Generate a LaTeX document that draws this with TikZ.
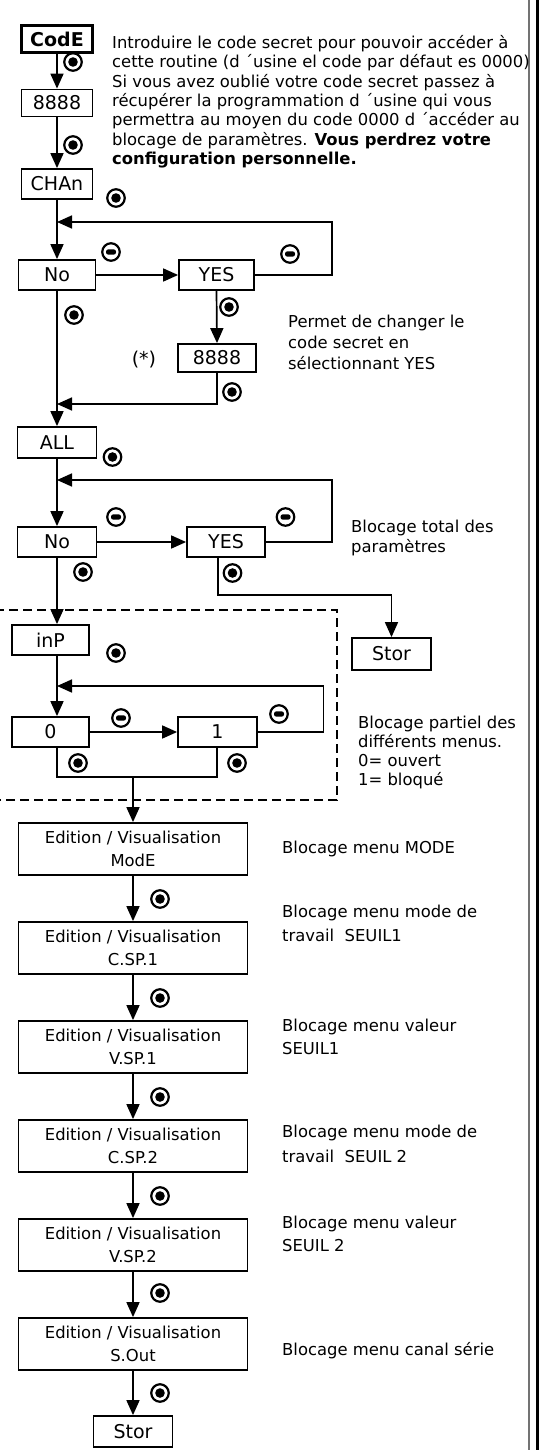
\documentclass[tikz,border=0pt]{standalone}
\usepackage{fontspec}
\setmainfont{DejaVu Sans}
\usetikzlibrary{arrows.meta,calc}

\begin{document}
\begin{tikzpicture}[x=1pt,y=-1pt,
  font=\fontsize{16.4}{19.4}\selectfont,
  smallbox/.style={draw,line width=1.8pt,minimum width=#1,minimum height=30pt,
    inner sep=0pt,font=\fontsize{19}{22}\selectfont},
  smallbox/.default=78pt,
  editbox/.style={draw,line width=1.8pt,minimum width=229pt,minimum height=52pt,
    inner sep=0pt,align=center,font=\fontsize{16.4}{23}\selectfont},
  note/.style={anchor=north west,align=left,inner sep=0pt},
  flow/.style={line width=1.7pt,-{Triangle[length=15pt,width=13pt]}},
  wire/.style={line width=1.7pt},
  keyok/.style={circle,draw,line width=2.2pt,minimum size=17.5pt,inner sep=0pt,
    path picture={\fill (path picture bounding box.center) circle (4.8pt);}},
  keyminus/.style={circle,draw,line width=2.2pt,minimum size=17.5pt,inner sep=0pt,
    path picture={\fill[rounded corners=2.2pt]
      ([xshift=-5pt,yshift=-2.6pt]path picture bounding box.center) rectangle
      ([xshift=5pt,yshift=2.6pt]path picture bounding box.center);}},
  dashframe/.style={line width=1.8pt,dash pattern=on 9pt off 5pt}
]
\useasboundingbox (0,0) rectangle (541,1450);

% page frame on the right
\draw[line width=1.4pt,black!55] (528.8,0) -- (528.8,1450);
\draw[line width=3pt] (537.3,0) -- (537.3,1450);

% ---- access code ----
\node[smallbox=71pt,line width=3pt,minimum height=27pt,font=\fontsize{19}{22}\selectfont\bfseries] (code) at (57,39.5) {CodE};
\node[smallbox=71pt,minimum height=27pt] (p8a) at (57,103) {8888};
\node[smallbox=71pt] (chan) at (57,184) {CHAn};

\node[note,font=\fontsize{16.4}{19.4}\selectfont] (intro) at (112,35)
 {Introduire le code secret pour pouvoir accéder à\\
  cette routine (d ´usine el code par défaut es 0000)\\
  Si vous avez oublié votre code secret passez à\\
  récupérer la programmation d ´usine qui vous\\
  permettra au moyen du code 0000 d ´accéder au\\
  blocage de paramètres. \textbf{Vous perdrez votre}\\
  \textbf{configuration personnelle.}};

\draw[flow] (code.south) -- (p8a.north);
\draw[flow] (p8a.south) -- (chan.north);
\node[keyok] (k1) at (73,62) {};
\node[keyok] (k2) at (73,145) {};
\node[keyok] (k3) at (116,198) {};

% ---- change code ----
\node[smallbox=77pt] (no1) at (57,275) {No};
\node[smallbox=75pt] (yes1) at (216.5,275) {YES};
\node[smallbox=78pt,minimum height=28pt] (p8b) at (217,358) {8888};
\coordinate (j1) at (57,222);
\coordinate (j2) at (57,404);

\draw[flow] (chan.south) -- (no1.north);
\draw[flow] (no1.east) -- (yes1.west);
\draw[flow] (yes1.east) -- ++(77,0) |- (j1);
\draw[flow] (yes1.south) -- (p8b.north);
\draw[flow] (p8b.south) |- (j2);

\node[keyminus] (m1) at (111,252) {};
\node[keyminus] (m2) at (290,254) {};
\node[keyok] (k4) at (74,315) {};
\node[keyok] (k5) at (229,307) {};
\node[keyok] (k6) at (232,392) {};
\node[font=\fontsize{19}{22}\selectfont] (star) at (144,360) {(*)};
\node[note,font=\fontsize{16.4}{21}\selectfont] (tchg) at (288,315)
 {Permet de changer le\\code secret en\\sélectionnant YES};

% ---- total lock ----
\node[smallbox=79pt,minimum height=31pt] (all) at (57,442.5) {ALL};
\node[smallbox=79pt] (no2) at (57,542) {No};
\node[smallbox=78pt] (yes2) at (226,542) {YES};
\node[smallbox=79pt,minimum height=32pt] (stor1) at (391.5,654) {Stor};
\coordinate (j3) at (57,480);

\draw[flow] (no1.south) -- (all.north);
\draw[flow] (all.south) -- (no2.north);
\draw[flow] (no2.east) -- (yes2.west);
\draw[flow] (yes2.east) -- ++(66,0) |- (j3);
\draw[flow] ([xshift=-8pt]yes2.south) -- ++(0,37) -| (stor1.north);

\node[keyok] (k7) at (112.5,457) {};
\node[keyminus] (m3) at (116,517) {};
\node[keyminus] (m4) at (285.5,517) {};
\node[keyok] (k8) at (83,572) {};
\node[keyok] (k9) at (232.5,573) {};
\node[note] (ttot) at (351,520) {Blocage total des\\paramètres};

% ---- partial lock ----
\draw[dashframe] (-5,610) -- (337,610) -- (337,800) -- (-5,800);
\node[smallbox=77pt] (inp) at (50.5,640) {inP};
\node[smallbox=77pt] (zero) at (50.5,732) {0};
\node[smallbox=79pt] (one) at (217.5,732) {1};
\coordinate (j4) at (57,686);
\coordinate (b) at (133,777);

\draw[flow] (no2.south) -- (no2.south |- inp.north);
\draw[flow] (no2.south |- inp.south) -- (no2.south |- zero.north);
\draw[flow] (zero.east) -- (one.west);
\draw[flow] (one.east) -- ++(65.5,0) |- (j4);
\draw[wire] (no2.south |- zero.south) |- (b) -| ([xshift=-0.5pt]one.south);

\node[keyok] (k10) at (116,653) {};
\node[keyminus] (m5) at (121,718) {};
\node[keyminus] (m6) at (279,714) {};
\node[keyok] (k11) at (78,763) {};
\node[keyok] (k12) at (237,763) {};
\node[note,font=\fontsize{16.4}{19}\selectfont] (tpart) at (358,716)
 {Blocage partiel des\\différents menus.\\0= ouvert\\1= bloqué};

% ---- menu locks ----
\node[editbox] (ed1) at (133,849) {Edition / Visualisation\\ModE};
\node[editbox] (ed2) at (133,948) {Edition / Visualisation\\C.SP.1};
\node[editbox] (ed3) at (133,1047) {Edition / Visualisation\\V.SP.1};
\node[editbox] (ed4) at (133,1146) {Edition / Visualisation\\C.SP.2};
\node[editbox] (ed5) at (133,1245) {Edition / Visualisation\\V.SP.2};
\node[editbox] (ed6) at (133,1344) {Edition / Visualisation\\S.Out};
\node[smallbox=79pt,minimum height=31pt] (stor2) at (133,1431.5) {Stor};

\draw[flow] (b) -- (ed1.north);
\draw[flow] (ed1.south) -- (ed2.north);
\draw[flow] (ed2.south) -- (ed3.north);
\draw[flow] (ed3.south) -- (ed4.north);
\draw[flow] (ed4.south) -- (ed5.north);
\draw[flow] (ed5.south) -- (ed6.north);
\draw[flow] (ed6.south) -- (stor2.north);

\node[keyok] (k13) at (160,899) {};
\node[keyok] (k14) at (160,998) {};
\node[keyok] (k15) at (160,1097) {};
\node[keyok] (k16) at (160,1196) {};
\node[keyok] (k17) at (160,1293) {};
\node[keyok] (k18) at (160,1393) {};

\node[note] (t1) at (282,841) {Blocage menu MODE};
\node[note,font=\fontsize{16.4}{24}\selectfont] (t2) at (282,905) {Blocage menu mode de\\travail\ \ SEUIL1};
\node[note,font=\fontsize{16.4}{23}\selectfont] (t3) at (282,1019) {Blocage menu valeur\\SEUIL1};
\node[note,font=\fontsize{16.4}{24.5}\selectfont] (t4) at (282,1125) {Blocage menu mode de\\travail\ \ SEUIL 2};
\node[note,font=\fontsize{16.4}{23}\selectfont] (t5) at (282,1216) {Blocage menu valeur\\SEUIL 2};
\node[note] (t6) at (282,1342) {Blocage menu canal série};
\end{tikzpicture}
\end{document}
